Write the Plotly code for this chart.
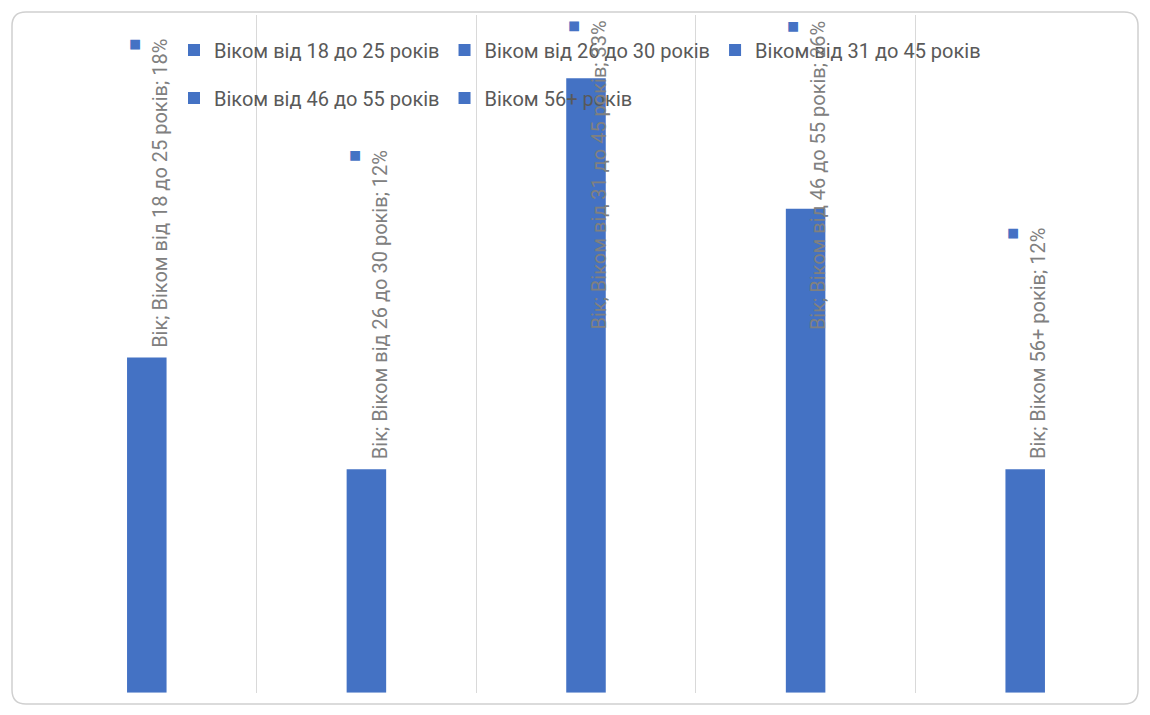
import plotly.graph_objects as go

# ---- data ----
series_name = "Вік"
categories = [
    "Віком від 18 до 25 років",
    "Віком від 26 до 30 років",
    "Віком від 31 до 45 років",
    "Віком від 46 до 55 років",
    "Віком 56+ років",
]
values = [18, 12, 33, 26, 12]

# ---- style / layout constants ----
W, H = 1150, 715
BAR_COLOR = "#4472C4"
GRID_COLOR = "#d9d9d9"
LEGEND_COLOR = "#595959"
LABEL_COLOR = "#808080"
FONT = "Roboto"
Y_MAX = 36.4
LABEL_SPAN = 17.5  # approx. label length in data units

x_left, x_right = 37 / W, 1135 / W
y_bot, y_top = (H - 692.7) / H, (H - 15) / H

fig = go.Figure()
n = len(categories)
for i, (cat, v) in enumerate(zip(categories, values)):
    fig.add_trace(go.Bar(
        x=[i], y=[v], name=cat, width=0.18,
        marker=dict(color=BAR_COLOR, line=dict(width=0)),
        legend="legend" if i < 3 else "legend2",
        hoverinfo="skip",
    ))

annotations = []
for i, (cat, v) in enumerate(zip(categories, values)):
    txt = f'<span style="color:{BAR_COLOR}">■</span><br>{series_name}; {cat}; {v}%'
    if v + LABEL_SPAN <= Y_MAX:
        ann = dict(x=i, y=v, yanchor="bottom", yshift=8)
    else:
        ann = dict(x=i, y=Y_MAX, yanchor="top", yshift=-4)
    ann.update(
        xref="x", yref="y", text=txt, textangle=-90, showarrow=False,
        xanchor="center", align="right",
        font=dict(family=FONT, size=20, color=LABEL_COLOR),
    )
    annotations.append(ann)

# rounded chart border
x0, x1, y0, y1 = 12 / W, 1138 / W, 1 - 704 / H, 1 - 12 / H
rx, ry = 14 / W, 14 / H
path = (f"M {x0+rx},{y1} L {x1-rx},{y1} Q {x1},{y1} {x1},{y1-ry} "
        f"L {x1},{y0+ry} Q {x1},{y0} {x1-rx},{y0} L {x0+rx},{y0} "
        f"Q {x0},{y0} {x0},{y0+ry} L {x0},{y1-ry} Q {x0},{y1} {x0+rx},{y1} Z")

legend_common = dict(
    orientation="h", x=174 / W, xanchor="left", yanchor="middle",
    font=dict(family=FONT, size=20, color=LEGEND_COLOR),
    bgcolor="rgba(0,0,0,0)", itemclick=False, itemdoubleclick=False,
    itemwidth=30,
)

fig.update_layout(
    width=W, height=H,
    margin=dict(l=0, r=0, t=0, b=0),
    paper_bgcolor="white", plot_bgcolor="white",
    barmode="overlay",
    showlegend=True,
    font=dict(family=FONT, color=LEGEND_COLOR),
    xaxis=dict(
        domain=[x_left, x_right], range=[-0.5, n - 0.5],
        tickvals=[k - 0.5 for k in range(n + 1)],
        showticklabels=False, ticks="", showgrid=True,
        gridcolor=GRID_COLOR, gridwidth=1, zeroline=False, showline=False,
    ),
    yaxis=dict(
        domain=[y_bot, y_top], range=[0, Y_MAX], visible=False,
        showgrid=False, zeroline=False,
    ),
    legend=dict(legend_common, y=1 - 50 / H),
    legend2=dict(legend_common, y=1 - 98 / H),
    annotations=annotations,
    shapes=[dict(type="path", path=path, xref="paper", yref="paper",
                 line=dict(color="#d0d0d0", width=1.5), layer="below")],
)

fig.write_html("out.html")
